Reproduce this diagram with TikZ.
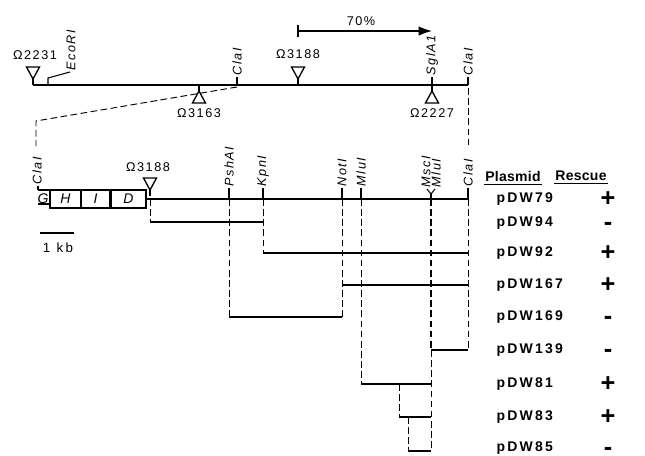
\documentclass[tikz,border=0pt]{standalone}
\usepackage{fontspec}
\setmainfont[LetterSpace=12]{Liberation Sans}
\usetikzlibrary{arrows.meta}
\tikzset{
  mapline/.style={line width=2.1pt},
  frag/.style={line width=1.7pt},
  guide/.style={dash pattern=on 5pt off 2.6pt, line width=0.7pt},
  sitetick/.style={line width=0.8pt},
  sitelbl/.style={rotate=90, anchor=west, inner sep=1pt, font=\fontsize{9.5}{11}\selectfont\itshape},
  lbl/.style={inner sep=1pt, font=\fontsize{9.5}{11}\selectfont},
  plas/.style={anchor=west, inner sep=1pt, font=\fontsize{10.5}{12}\selectfont\bfseries\addfontfeature{LetterSpace=16}},
  sign/.style={anchor=base, inner sep=0pt, font=\fontsize{19}{19}\selectfont\bfseries},
  hdr/.style={inner sep=1pt, font=\fontsize{10.5}{12}\selectfont\bfseries\addfontfeature{LetterSpace=2}},
  gbox/.style={draw, line width=0.9pt},
  dtri/.pic={\draw[line width=1pt] (-6.5,-18) -- (6.5,-18) -- (0,-6) -- cycle; \draw[line width=1pt] (0,-6) -- (0,0);},
  utri/.pic={\draw[line width=1pt] (-6.5,18) -- (6.5,18) -- (0,6) -- cycle; \draw[line width=1pt] (0,6) -- (0,0);}
}
\begin{document}
\begin{tikzpicture}[x=0.75pt,y=-0.75pt]
\useasboundingbox (0,0) rectangle (645,456);
% ---------- top map ----------
\coordinate (tL) at (33,85);
\coordinate (tR) at (468,85);
\draw[mapline] (tL) -- (tR);
\pic at (33,85) {dtri};
\node[lbl] (o2231) at (35,55) {Ω2231};
\draw[sitetick] (48,85) -- (48,78) -- (70,72);
\node[sitelbl] (ecori) at (71,72) {EcoRI};
\coordinate (tcla1) at (237,85);
\draw[sitetick] (tcla1) -- (237,77);
\node[sitelbl] (cla1) at (237,77) {ClaI};
\pic at (298,85) {dtri};
\node[lbl] (o3188a) at (298,54) {Ω3188};
\pic at (199,85) {utri};
\node[lbl] (o3163) at (199,113) {Ω3163};
\draw[sitetick] (432,85) -- (432,77);
\node[sitelbl] (sgl) at (432,77) {SglA1};
\pic at (432,85) {utri};
\node[lbl] (o2227) at (432,113) {Ω2227};
\draw[sitetick] (tR) -- (468,77);
\node[sitelbl] (cla2) at (468,77) {ClaI};
% 70% arrow
\coordinate (aS) at (298,31);
\coordinate (aE) at (432,31);
\draw[line width=0.9pt, -{Latex[length=10pt,width=7pt]}] (aS) -- (aE);
\draw[line width=0.9pt] (298,25) -- (298,37);
\node[lbl] (pct) at (361,21) {70\%};
% zoom guides
\coordinate (zL) at (36,121);
\coordinate (zLb) at (36,146);
\draw[guide] (237,87) -- (zL) -- (zLb);
\coordinate (zRb) at (468,146);
\draw[guide] (468,88) -- (zRb);
% ---------- lower map ----------
\coordinate (bL) at (146,199);
\coordinate (bR) at (468,199);
\draw[mapline] (bL) -- (bR);
\draw[gbox] (38,190) -- (50,190);
\draw[gbox] (38,204) -- (50,204);
\draw[gbox] (50,190) rectangle (81,208);
\draw[gbox] (81,190) rectangle (110,208);
\draw[gbox] (111,190) rectangle (146,208);
\node[lbl, font=\fontsize{10.5}{12}\selectfont\itshape] (g) at (43,199) {G};
\node[lbl, font=\fontsize{10.5}{12}\selectfont\itshape] (h) at (65.5,199) {H};
\node[lbl, font=\fontsize{10.5}{12}\selectfont\itshape] (i) at (95.5,199) {I};
\node[lbl, font=\fontsize{10.5}{12}\selectfont\itshape] (d) at (128.5,199) {D};
\draw[sitetick] (38,190) -- (38,186);
\node[sitelbl] (cla3) at (37,186) {ClaI};
\pic at (150,196) {dtri};
\node[lbl] (o3188b) at (148,167) {Ω3188};
% sites
\foreach \nm/\xx/\tx in {psh/229/PshAI, kpn/263/KpnI, not/342/NotI, mlu1/361/MluI, cla4/468/ClaI}{
  \draw[sitetick] (\xx,199) -- (\xx,188);
  \node[sitelbl] (\nm) at (\xx,188) {\tx};
}
\draw[sitetick] (427,189) -- (431,194) -- (435,189);
\draw[sitetick] (431,194) -- (431,199);
\node[sitelbl] (msc) at (426,189) {MscI};
\node[sitelbl] (mlu2) at (436,189) {MluI};
% scale bar
\coordinate (sb1) at (40,233);
\coordinate (sb2) at (74,233);
\draw[line width=1.6pt] (sb1) -- (sb2);
\node[lbl, font=\fontsize{10}{12}\selectfont\addfontfeature{LetterSpace=18}] (kb) at (58,248) {1 kb};
% fragments
\draw[frag] (150,222) -- (263,222);
\draw[frag] (263,253) -- (468,253);
\draw[frag] (342,285) -- (468,285);
\draw[frag] (229,317) -- (342,317);
\draw[frag] (431,350) -- (468,350);
\draw[frag] (361,384) -- (431,384);
\draw[frag] (399,417) -- (431,417);
\draw[frag] (408,451) -- (431,451);
% guides
\draw[guide] (150,199) -- (150,222);
\draw[guide] (263,199) -- (263,253);
\draw[guide] (229,199) -- (229,317);
\draw[guide] (342,199) -- (342,317);
\draw[guide] (361,199) -- (361,384);
\draw[guide, line width=1.4pt] (431,199) -- (431,350);
\draw[guide] (431,350) -- (431,451);
\draw[guide] (468,199) -- (468,350);
\draw[guide] (399,384) -- (399,417);
\draw[guide] (408,417) -- (408,451);
% ---------- table ----------
\node[hdr] (hp) at (513,176) {Plasmid};
\node[hdr] (hr) at (581,176) {Rescue};
\draw[line width=0.8pt] ([yshift=-1pt]hp.south west) -- ([yshift=-1pt]hp.south east);
\draw[line width=0.8pt] ([yshift=-1pt]hr.south west) -- ([yshift=-1pt]hr.south east);
\foreach \nm/\yy/\tx/\sg in {p79/199/pDW79/+, p94/223/pDW94/-, p92/253/pDW92/+, p167/285/pDW167/+, p169/317/pDW169/-, p139/350/pDW139/-, p81/384/pDW81/+, p83/417/pDW83/+, p85/448/pDW85/-}{
  \node[plas] (\nm) at (495,\yy) {\tx};
  \node[sign] (\nm s) at (608,\yy+7) {\sg};
}
\end{tikzpicture}
\end{document}
